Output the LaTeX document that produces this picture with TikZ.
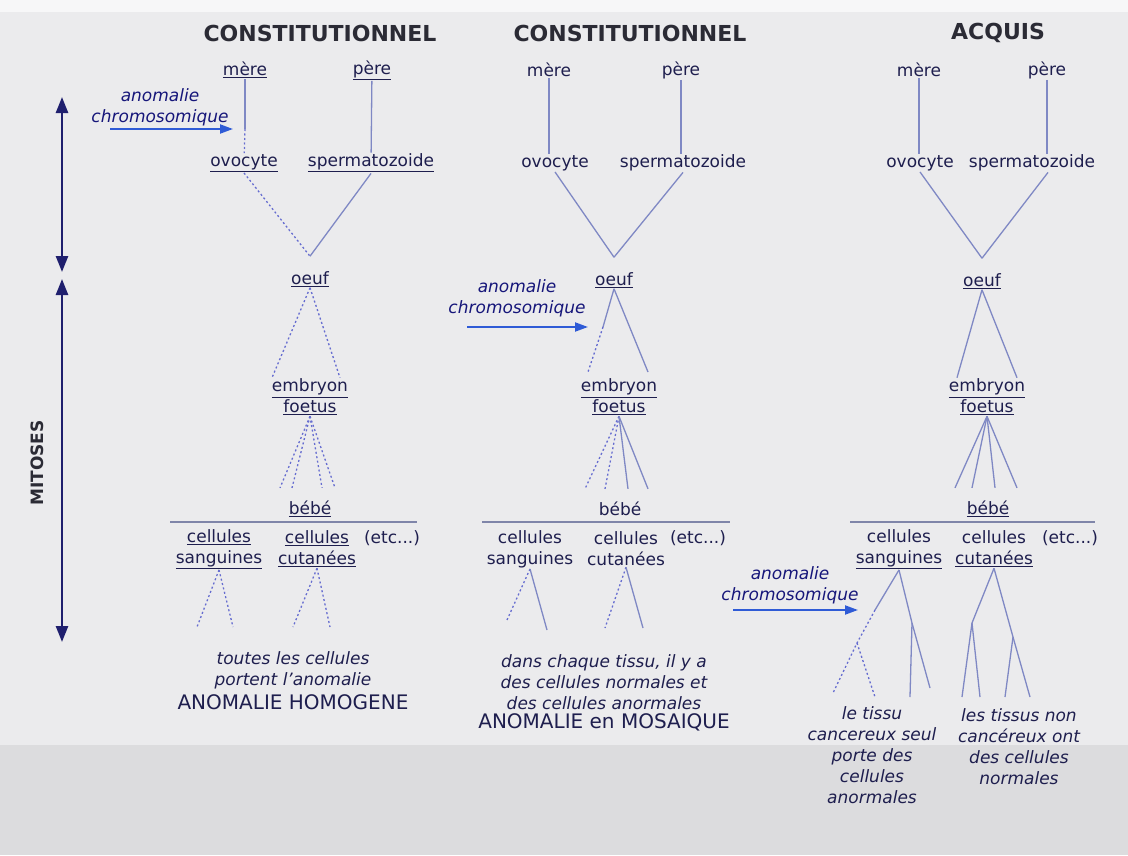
\documentclass[tikz,border=0pt]{standalone}
\usepackage{fontspec}
\setmainfont{DejaVu Sans}
\usetikzlibrary{arrows.meta}
\definecolor{ink}{HTML}{1E1E4E}
\definecolor{titleink}{HTML}{2B2B35}
\definecolor{branch}{HTML}{7F88C4}
\definecolor{anomblue}{HTML}{2F5BD6}
\definecolor{phaseblue}{HTML}{1F1F6E}
\definecolor{paper}{HTML}{EBEBED}
\definecolor{paperlow}{HTML}{DCDCDE}
\newcommand{\lbsize}{\fontsize{17}{21}\selectfont}
\newcommand{\undl}[1]{\underline{#1}}

\begin{document}
\begin{tikzpicture}[
  x=1pt, y=-1pt,
  lbl/.style={font=\lbsize, text=ink, inner sep=1pt, align=center},
  note/.style={lbl, font=\lbsize\itshape},
  anomlbl/.style={note, text=ink!75!blue},
  result/.style={lbl, font=\fontsize{20}{24}\selectfont},
  title/.style={font=\fontsize{22}{26}\selectfont\bfseries, text=titleink},
  lin/.style={draw=branch, line width=1.3pt},
  dot/.style={lin, draw=branch!80!blue, dash pattern=on 2pt off 2.5pt},
  rule/.style={draw=branch!60!gray, line width=1.2pt},
  anom/.style={-{Triangle[length=13pt,width=9pt]}, line width=2pt, draw=anomblue},
  phase/.style={{Triangle[length=16pt,width=12pt]}-{Triangle[length=16pt,width=12pt]},
                line width=2.5pt, draw=phaseblue}
]
% paper
\fill[paper] (0,0) rectangle (1128,855);
\fill[paperlow] (0,745) rectangle (1128,855);
\fill[white!60!paper] (0,0) rectangle (1128,12);

% time scale on the left
\coordinate (meioTop) at (62,97);
\coordinate (meioBot) at (62,272);
\coordinate (mitoTop) at (62,279);
\coordinate (mitoBot) at (62,642);
\draw[phase] (meioTop) -- (meioBot);
\draw[phase] (mitoTop) -- (mitoBot);
\node[rotate=90, font=\fontsize{17}{20}\selectfont\bfseries, text=titleink] (mito) at (37,463) {MITOSES};

% --- constitutionnel, anomaly in the oocyte
\node[title] (titleA) at (320,33) {CONSTITUTIONNEL};
\node[lbl] (mereA) at (245,70) {\undl{mère}};
\node[lbl] (pereA) at (372,70) {\undl{père}};
\node[lbl] (ovoA) at (244,163) {\undl{ovocyte}};
\node[lbl] (spermA) at (371,163) {\undl{spermatozoide}};
\node[lbl] (oeufA) at (310,279) {\undl{oeuf}};
\node[lbl] (embA) at (310,397) {\undl{embryon}\\\undl{foetus}};
\node[lbl] (bebeA) at (310,509) {\undl{bébé}};
\node[lbl] (sangA) at (219,549) {\undl{cellules}\\\undl{sanguines}};
\node[lbl] (cutA) at (317,549) {\undl{cellules}\\\undl{cutanées}};
\node[lbl] (etcA) at (392,538) {(etc...)};
\node[note] (noteA) at (293,670) {toutes les cellules\\portent l'anomalie};
\node[result] (resA) at (293,702) {ANOMALIE HOMOGENE};
\node[anomlbl] (anA) at (160,107) {anomalie\\chromosomique};

\coordinate (hitA) at (245,129);
\coordinate (fromA) at (110,129);
\draw[lin] (mereA) -- (hitA);
\draw[dot] (hitA) -- (ovoA);
\draw[lin] (pereA) -- (spermA);
\draw[dot] (ovoA.south) -- ([yshift=14pt]oeufA.north);
\draw[lin] (spermA.south) -- ([yshift=14pt]oeufA.north);
\foreach \dx in {-38,30}
  \draw[dot] (oeufA.south) -- ([xshift=\dx pt]embA.north);
\foreach \dx in {-30,-18,12,25}
  \draw[dot] (embA.south) -- ([xshift=\dx pt,yshift=12pt]bebeA.north);
\draw[rule] (170,522) -- (417,522);
\foreach \n/\x in {sA1/197, sA2/233, cA1/293, cA2/330}
  \coordinate (\n) at (\x,627);
\foreach \a/\b in {sangA/sA1, sangA/sA2, cutA/cA1, cutA/cA2}
  \draw[dot] (\a.south) -- (\b);
\draw[anom] (fromA) -- ([xshift=-12pt]hitA);

% --- constitutionnel, anomaly after the first divisions
\node[title] (titleB) at (630,33) {CONSTITUTIONNEL};
\node[lbl] (mereB) at (549,70) {mère};
\node[lbl] (pereB) at (681,70) {père};
\node[lbl] (ovoB) at (555,163) {ovocyte};
\node[lbl] (spermB) at (683,163) {spermatozoide};
\node[lbl] (oeufB) at (614,280) {\undl{oeuf}};
\node[lbl] (embB) at (619,397) {\undl{embryon}\\\undl{foetus}};
\node[lbl] (bebeB) at (620,509) {bébé};
\node[lbl] (sangB) at (530,549) {cellules\\sanguines};
\node[lbl] (cutB) at (626,549) {cellules\\cutanées};
\node[lbl] (etcB) at (698,538) {(etc...)};
\node[note] (noteB) at (604,682) {dans chaque tissu, il y a\\des cellules normales et\\des cellules anormales};
\node[result] (resB) at (604,722) {ANOMALIE en MOSAIQUE};
\node[anomlbl] (anB) at (517,298) {anomalie\\chromosomique};

\draw[lin] (mereB.south) -- (mereB.south |- ovoB.north);
\draw[lin] (pereB.south) -- (pereB.south |- spermB.north);
\draw[lin] (ovoB.south) -- ([yshift=14pt]oeufB.north);
\draw[lin] (spermB.south) -- ([yshift=14pt]oeufB.north);
\coordinate (hitB) at (603,327);
\coordinate (fromB) at (467,327);
\coordinate (eB1) at (588,372);
\coordinate (eB2) at (648,372);
\draw[lin] (oeufB.south) -- (hitB);
\draw[dot] (hitB) -- (eB1);
\draw[lin] (oeufB.south) -- (eB2);
\foreach \dx in {-35,-15}
  \draw[dot] (embB.south) -- ([xshift=\dx pt,yshift=12pt]bebeB.north);
\foreach \dx in {8,28}
  \draw[lin] (embB.south) -- ([xshift=\dx pt,yshift=12pt]bebeB.north);
\draw[rule] (482,522) -- (730,522);
\coordinate (sB1) at (507,620);
\coordinate (sB2) at (547,630);
\coordinate (cB1) at (605,628);
\coordinate (cB2) at (643,628);
\draw[dot] (sangB.south) -- (sB1);
\draw[lin] (sangB.south) -- (sB2);
\draw[dot] (cutB.south) -- (cB1);
\draw[lin] (cutB.south) -- (cB2);
\draw[anom] (fromB) -- ([xshift=-15pt]hitB);

% --- acquis, anomaly in one tissue only
\node[title] (titleC) at (998,33) {ACQUIS};
\node[lbl] (mereC) at (919,70) {mère};
\node[lbl] (pereC) at (1047,70) {père};
\node[lbl] (ovoC) at (920,163) {ovocyte};
\node[lbl] (spermC) at (1032,163) {spermatozoide};
\node[lbl] (oeufC) at (982,281) {\undl{oeuf}};
\node[lbl] (embC) at (987,397) {\undl{embryon}\\\undl{foetus}};
\node[lbl] (bebeC) at (988,509) {\undl{bébé}};
\node[lbl] (sangC) at (899,549) {cellules\\\undl{sanguines}};
\node[lbl] (cutC) at (994,549) {cellules\\\undl{cutanées}};
\node[lbl] (etcC) at (1070,538) {(etc...)};
\node[note] (noteC) at (872,755) {le tissu\\cancereux seul\\porte des\\cellules\\anormales};
\node[note] (normC) at (1019,747) {les tissus non\\cancéreux ont\\des cellules\\normales};
\node[anomlbl] (anC) at (790,585) {anomalie\\chromosomique};

\draw[lin] (mereC.south) -- (mereC.south |- ovoC.north);
\draw[lin] (pereC.south) -- (pereC.south |- spermC.north);
\draw[lin] (ovoC.south) -- ([yshift=14pt]oeufC.north);
\draw[lin] ([xshift=16pt]spermC.south) -- ([yshift=14pt]oeufC.north);
\foreach \dx in {-30,30}
  \draw[lin] (oeufC.south) -- ([xshift=\dx pt]embC.north);
\foreach \dx in {-33,-16,7,29}
  \draw[lin] (embC.south) -- ([xshift=\dx pt,yshift=12pt]bebeC.north);
\draw[rule] (850,522) -- (1095,522);
% sanguines: the cancerous branch
\coordinate (hitC) at (875,610);
\coordinate (fromC) at (733,610);
\coordinate (midC) at (857,643);
\coordinate (kneeC) at (912,623);
\coordinate (sC1) at (833,693);
\coordinate (sC2) at (875,697);
\coordinate (sC3) at (930,688);
\coordinate (sC4) at (910,697);
\draw[lin] (sangC.south) -- (hitC);
\draw[dot] (hitC) -- (midC) -- (sC1);
\draw[dot] (midC) -- (sC2);
\draw[lin] (sangC.south) -- (kneeC) -- (sC3);
\draw[lin] (kneeC) -- (sC4);
% cutanees: normal
\coordinate (kneeD) at (972,623);
\coordinate (kneeE) at (1013,637);
\foreach \n/\x in {cC1/962, cC2/980, cC3/1005, cC4/1030}
  \coordinate (\n) at (\x,697);
\draw[lin] (cutC.south) -- (kneeD);
\draw[lin] (cutC.south) -- (kneeE);
\foreach \a/\b in {kneeD/cC1, kneeD/cC2, kneeE/cC3, kneeE/cC4}
  \draw[lin] (\a) -- (\b);
\draw[anom] (fromC) -- ([xshift=-17pt]hitC);
\end{tikzpicture}
\end{document}
